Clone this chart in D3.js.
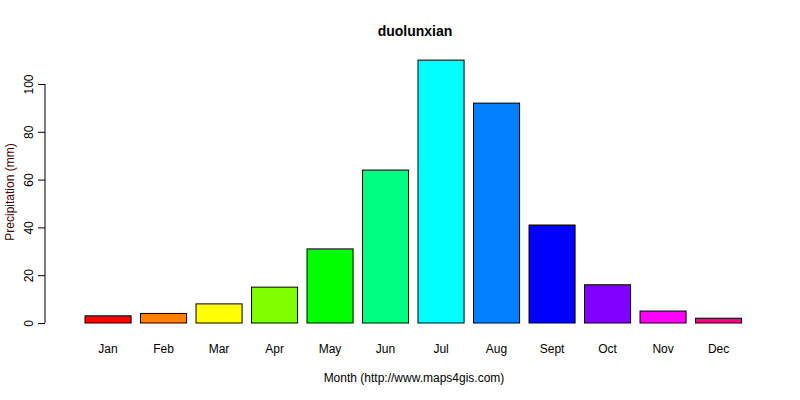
<!DOCTYPE html>
<html><head><script src="https://cdn.jsdelivr.net/npm/d3@7"></script>
<style>body{margin:0;background:#fff}text{font-family:"Liberation Sans",Arial,sans-serif}</style></head>
<body><svg id="c" width="800" height="400"></svg>
<script>
const months=["Jan","Feb","Mar","Apr","May","Jun","Jul","Aug","Sept","Oct","Nov","Dec"];
const precip=[3,4,8,15,31,64,110,92,41,16,5,2];
const colors=["#FF0000","#FF8000","#FFFF00","#80FF00","#00FF00","#00FF80","#00FFFF","#0080FF","#0000FF","#8000FF","#FF00FF","#FF0080"];
const yTicks=[0,20,40,60,80,100];
const svg=d3.select("#c");
const x=d3.scaleBand().domain(months).range([80.3,746.3]).paddingInner(0.17).paddingOuter(0.085);
const y=d3.scaleLinear().domain([0,100]).range([323,84]);
svg.selectAll("rect").data(precip).join("rect")
 .attr("x",(d,i)=>x(months[i])).attr("width",x.bandwidth())
 .attr("y",d=>y(d)).attr("height",d=>y(0)-y(d))
 .attr("fill",(d,i)=>colors[i]).attr("stroke","#000").attr("stroke-width",1);
const ya=svg.append("g").attr("transform","translate(45,0)")
 .call(d3.axisLeft(y).tickValues(yTicks).tickSize(7).tickPadding(4));
ya.select(".domain").attr("d","M0,"+y(0)+"V"+y(100));
ya.selectAll("text").attr("font-size",12).attr("transform",d=>`rotate(-90,-11,${y(d)})`)
 .attr("x",-11).attr("dy",0).attr("y",y=>0).attr("text-anchor","middle")
 .attr("dominant-baseline","auto");
ya.selectAll(".tick text").each(function(){d3.select(this).attr("transform",function(){const t=d3.select(this.parentNode).attr("transform");return "rotate(-90) translate(0,-12)";}).attr("x",0).attr("y",0);});
svg.selectAll(".mlab").data(months).join("text").attr("class","mlab")
 .attr("x",d=>x(d)+x.bandwidth()/2).attr("y",353).attr("text-anchor","middle")
 .attr("font-size",12).text(d=>d);
svg.append("text").attr("x",415).attr("y",36).attr("text-anchor","middle").attr("font-size",14).attr("font-weight","bold").text("duolunxian");
svg.append("text").attr("x",414).attr("y",382).attr("text-anchor","middle").attr("font-size",12).text("Month (http://www.maps4gis.com)");
svg.append("text").attr("transform","translate(14,192) rotate(-90)").attr("text-anchor","middle").attr("font-size",12).attr("fill","#400000").text("Precipitation (mm)");
</script></body></html>
